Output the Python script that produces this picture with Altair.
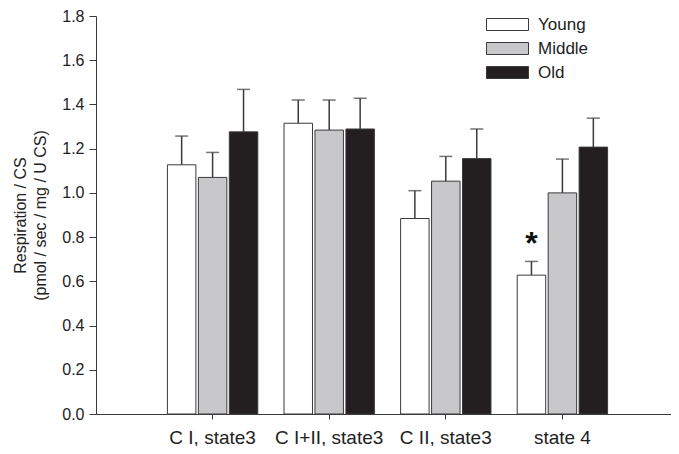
import altair as alt
import pandas as pd

categories = ["C I, state3", "C I+II, state3", "C II, state3", "state 4"]
groups = ["Young", "Middle", "Old"]
colors = ["#ffffff", "#c8c8ca", "#231f20"]

young = [1.127, 1.315, 0.884, 0.628]
young_err = [1.257, 1.420, 1.010, 0.690]
middle = [1.070, 1.284, 1.053, 1.000]
middle_err = [1.183, 1.420, 1.165, 1.153]
old = [1.276, 1.289, 1.155, 1.207]
old_err = [1.468, 1.428, 1.289, 1.338]

star_category = ["state 4"]
star_group = ["Young"]
star_y = [0.805]

rows = []
for g, vals, errs in zip(groups, [young, middle, old], [young_err, middle_err, old_err]):
    for c, v, e in zip(categories, vals, errs):
        rows.append({"category": c, "group": g, "value": v, "err": e})
df = pd.DataFrame(rows)
star_df = pd.DataFrame({"category": star_category, "group": star_group, "y": star_y})

FONT = "Liberation Sans"
DARK = "#3a3a3a"

# plot area 575 px wide; the category axis runs on past the right edge as in the original
x_enc = alt.X(
    "category:N",
    sort=categories,
    scale=alt.Scale(paddingInner=0.225, paddingOuter=0.6125, range=[0, 583]),
    axis=alt.Axis(
        title=None, labelAngle=0, labelFontSize=19, labelFont=FONT, labelColor="#222",
        tickSize=5, labelPadding=9, domainColor=DARK, tickColor=DARK,
    ),
)
xoff_enc = alt.XOffset("group:N", sort=groups, scale=alt.Scale(paddingInner=0.08, paddingOuter=0))
y_scale = alt.Scale(domain=[0, 1.8], nice=False)
y_axis = alt.Axis(
    title=["Respiration / CS", "(pmol / sec / mg / U CS)"],
    values=[round(0.2 * i, 1) for i in range(10)],
    format=".1f",
    labelFontSize=16, labelFont=FONT, labelColor="#222",
    titleFontSize=16, titleFont=FONT, titleFontWeight="normal", titleColor="#222",
    titleLineHeight=20, titlePadding=13,
    tickSize=7, labelPadding=5, domainColor=DARK, tickColor=DARK,
)

base = alt.Chart(df).encode(x=x_enc, xOffset=xoff_enc)

bars = base.mark_bar(stroke=DARK, strokeWidth=1).encode(
    y=alt.Y("value:Q", scale=y_scale, axis=y_axis),
    color=alt.Color(
        "group:N",
        sort=groups,
        scale=alt.Scale(domain=groups, range=colors),
        legend=alt.Legend(
            title=None, orient="none", legendX=403, legendY=0, padding=0,
            symbolType="M-3.5,-1L3.5,-1L3.5,1L-3.5,1Z", symbolSize=144,
            symbolStrokeColor=DARK, symbolStrokeWidth=1, symbolOpacity=1,
            labelFontSize=17, labelFont=FONT, labelColor="#222",
            labelOffset=22, rowPadding=6,
        ),
    ),
)

rules = base.mark_rule(color=DARK, strokeWidth=1.5).encode(
    y=alt.Y("value:Q", scale=y_scale), y2="err:Q"
)
caps = base.mark_tick(orient="horizontal", size=13, thickness=1.5, color=DARK).encode(
    y=alt.Y("err:Q", scale=y_scale)
)
star = alt.Chart(star_df).mark_text(
    text="*", fontSize=32, fontWeight="bold", font=FONT, color="#111", baseline="alphabetic", dy=18
).encode(
    x=alt.X("category:N", sort=categories),
    xOffset=alt.XOffset("group:N", sort=groups),
    y=alt.Y("y:Q", scale=y_scale),
)

chart = alt.layer(bars, rules, caps, star).properties(
    width=575, height=398,
    autosize=alt.AutoSizeParams(type="none"),
    padding={"left": 88, "top": 8, "right": 0, "bottom": 32},
).configure_view(stroke=None).configure_axis(grid=False)

chart.save("out.html", embed_options={"renderer": "svg", "actions": False})
